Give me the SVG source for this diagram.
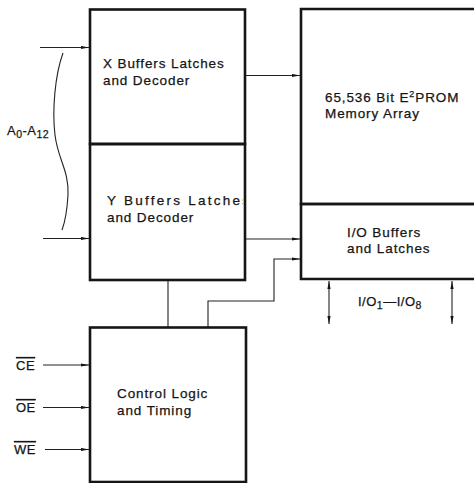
<svg xmlns="http://www.w3.org/2000/svg" width="474" height="483" viewBox="0 0 474 483">
<style>
.box{fill:none;stroke:#151515;stroke-width:2.6}
.wire{fill:none;stroke:#222;stroke-width:1.1}
.lbl{font-family:"Liberation Sans",Arial,sans-serif;font-size:13.5px;letter-spacing:0.9px;fill:#151515;stroke:#151515;stroke-width:0.25}
.sig{font-family:"Liberation Sans",Arial,sans-serif;font-size:13px;letter-spacing:0.5px;fill:#151515;stroke:#151515;stroke-width:0.25}
</style>
<defs>
<marker id="arr" markerUnits="userSpaceOnUse" markerWidth="9" markerHeight="5" refX="8" refY="2" orient="auto-start-reverse">
<path d="M0,0.4 L8,2 L0,3.6 Z" fill="#151515"/>
</marker>
<clipPath id="clipL"><rect x="91" y="145" width="152" height="134"/></clipPath>
</defs>
<rect width="474" height="483" fill="#fff"/>

<g id="xbuf">
<rect class="box" x="90" y="9.5" width="155" height="134.5"/>
<text class="lbl" x="103" y="68">X Buffers Latches</text>
<text class="lbl" x="103" y="85">and Decoder</text>
</g>

<g id="ybuf">
<rect class="box" x="90" y="144" width="155" height="136"/>
<g clip-path="url(#clipL)">
<text class="lbl" x="107" y="205" textLength="143" lengthAdjust="spacing">Y Buffers Latches</text>
</g>
<text class="lbl" x="107" y="222">and Decoder</text>
</g>

<g id="memory">
<path class="box" d="M480,9 H301 V204 H480"/>
<text class="lbl" x="325" y="102">65,536 Bit E<tspan font-size="9" dy="-5">2</tspan><tspan dy="5">PROM</tspan></text>
<text class="lbl" x="325" y="118">Memory Array</text>
</g>

<g id="iobuf">
<path class="box" d="M480,204 H301 V279 H480"/>
<text class="lbl" x="347" y="237">I/O Buffers</text>
<text class="lbl" x="347" y="253">and Latches</text>
</g>

<g id="control">
<rect class="box" x="90" y="327.5" width="156" height="154.5"/>
<text class="lbl" x="117" y="398">Control Logic</text>
<text class="lbl" x="117" y="415">and Timing</text>
</g>

<g id="labels">
<text class="sig" x="7" y="135">A<tspan font-size="10.5" dy="3">0</tspan><tspan dy="-3">-A</tspan><tspan font-size="10.5" dy="3">12</tspan></text>
<text class="sig" x="16" y="370" text-decoration="overline">CE</text>
<text class="sig" x="16" y="412" text-decoration="overline">OE</text>
<text class="sig" x="14" y="454" text-decoration="overline">WE</text>
<text class="sig" x="358" y="306">I/O<tspan font-size="10.5" dy="3">1</tspan><tspan dy="-3">—I/O</tspan><tspan font-size="10.5" dy="3">8</tspan></text>
</g>

<g id="connectors">
<path class="wire" d="M63,53 C55,75 52,110 55,135 C58,160 69,170 68,195 C67,212 65,222 62,230" stroke-width="1.6"/>
<line class="wire" x1="40" y1="47.5" x2="89" y2="47.5" marker-end="url(#arr)"/>
<line class="wire" x1="43" y1="238.5" x2="89" y2="238.5" marker-end="url(#arr)"/>
<line class="wire" x1="246" y1="75.5" x2="300" y2="75.5" marker-end="url(#arr)"/>
<line class="wire" x1="246" y1="239" x2="300" y2="239" marker-end="url(#arr)"/>
<line class="wire" x1="168" y1="281" x2="168" y2="327"/>
<path class="wire" d="M208,327 V301 H274 V259 H300" marker-end="url(#arr)"/>
<line class="wire" x1="43" y1="365" x2="89" y2="365" marker-end="url(#arr)"/>
<line class="wire" x1="43" y1="407.5" x2="89" y2="407.5" marker-end="url(#arr)"/>
<line class="wire" x1="45" y1="449.5" x2="89" y2="449.5" marker-end="url(#arr)"/>
<line class="wire" x1="329" y1="281" x2="329" y2="324" marker-start="url(#arr)" marker-end="url(#arr)"/>
<line class="wire" x1="452" y1="281" x2="452" y2="324" marker-start="url(#arr)" marker-end="url(#arr)"/>
</g>
</svg>
